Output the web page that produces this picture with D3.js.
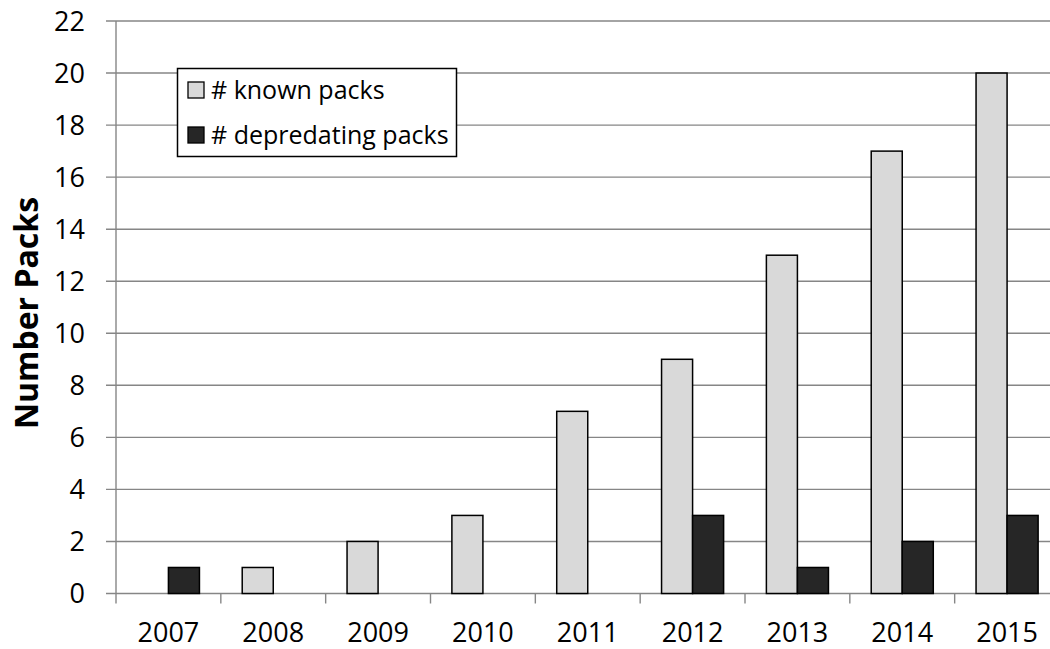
<!DOCTYPE html>
<html>
<head>
<meta charset="utf-8">
<script src="https://cdn.jsdelivr.net/npm/d3@7"></script>
<style>
  html, body { margin: 0; padding: 0; background: #fff; }
  svg { display: block; }
  text { font-family: "Open Sans", "Noto Sans", sans-serif; fill: #000; }
</style>
</head>
<body>
<svg id="chart" width="1050" height="649"></svg>
<script>
// Pack counts per year
const years = ["2007", "2008", "2009", "2010", "2011", "2012", "2013", "2014", "2015"];
const knownPacks = [0, 1, 2, 3, 7, 9, 13, 17, 20];
const depredatingPacks = [1, 0, 0, 0, 0, 3, 1, 2, 3];
const seriesNames = ["# known packs", "# depredating packs"];
const seriesColors = ["#d9d9d9", "#262626"];
const yTicks = [0, 2, 4, 6, 8, 10, 12, 14, 16, 18, 20, 22];

const svg = d3.select("#chart");
const W = 1050, H = 649;
const m = { left: 116, top: 21, bottom: 593.5 };
const plotRight = 1059.5; // plot area runs slightly past the canvas edge

const x = d3.scaleBand().domain(years).range([m.left, plotRight]).padding(0);
const bw = x.bandwidth();
const xSub = d3.scaleBand().domain(seriesNames)
  .range([bw * 0.204, bw * 0.796]).padding(0);
const y = d3.scaleLinear().domain([0, 22]).range([m.bottom, m.top]);

const grid = "#868686";

// Horizontal gridlines, with short tick stubs left of the axis
svg.append("g")
  .selectAll("line")
  .data(yTicks)
  .join("line")
  .attr("x1", m.left - 10)
  .attr("x2", W)
  .attr("y1", d => y(d))
  .attr("y2", d => y(d))
  .attr("stroke", grid)
  .attr("stroke-width", 1.4);

// Y axis line
svg.append("line")
  .attr("x1", m.left).attr("x2", m.left)
  .attr("y1", y(22)).attr("y2", m.bottom + 10)
  .attr("stroke", grid).attr("stroke-width", 1.4);

// X tick marks at category boundaries
svg.append("g")
  .selectAll("line")
  .data(years.slice(1))
  .join("line")
  .attr("x1", d => x(d)).attr("x2", d => x(d))
  .attr("y1", m.bottom).attr("y2", m.bottom + 10)
  .attr("stroke", grid).attr("stroke-width", 1.4);

// Y tick labels
svg.append("g")
  .selectAll("text")
  .data(yTicks)
  .join("text")
  .attr("x", 85)
  .attr("y", d => y(d))
  .attr("dy", "0.36em")
  .attr("text-anchor", "end")
  .attr("font-size", 27)
  .text(d => d);

// X tick labels
svg.append("g")
  .selectAll("text")
  .data(years)
  .join("text")
  .attr("x", d => x(d) + bw / 2)
  .attr("y", 641.5)
  .attr("text-anchor", "middle")
  .attr("font-size", 27)
  .text(d => d);

// Bars
const rows = years.map((yr, i) => ({ year: yr, values: [knownPacks[i], depredatingPacks[i]] }));
svg.append("g")
  .selectAll("g")
  .data(rows)
  .join("g")
  .attr("transform", d => `translate(${x(d.year)},0)`)
  .selectAll("rect")
  .data(d => d.values.map((v, j) => ({ v, j })).filter(e => e.v > 0))
  .join("rect")
  .attr("x", d => xSub(seriesNames[d.j]))
  .attr("width", xSub.bandwidth())
  .attr("y", d => y(d.v))
  .attr("height", d => y(0) - y(d.v))
  .attr("fill", d => seriesColors[d.j])
  .attr("stroke", "#000")
  .attr("stroke-width", 1.5);

// Y axis title
svg.append("text")
  .attr("transform", "translate(38,313) rotate(-90)")
  .attr("text-anchor", "middle")
  .attr("font-size", 32)
  .attr("font-weight", "bold")
  .text("Number Packs");

// Legend
const lg = svg.append("g");
lg.append("rect")
  .attr("x", 177.5).attr("y", 68.5)
  .attr("width", 279).attr("height", 88)
  .attr("fill", "#fff").attr("stroke", "#000").attr("stroke-width", 1.5);
seriesNames.forEach((name, i) => {
  const cy = 90 + i * 45;
  lg.append("rect")
    .attr("x", 188).attr("y", cy - 8)
    .attr("width", 16).attr("height", 16)
    .attr("fill", seriesColors[i]).attr("stroke", "#000").attr("stroke-width", 1.3);
  lg.append("text")
    .attr("x", 211)
    .attr("y", cy)
    .attr("dy", "0.36em")
    .attr("font-size", 25)
    .text(name);
});
</script>
</body>
</html>
